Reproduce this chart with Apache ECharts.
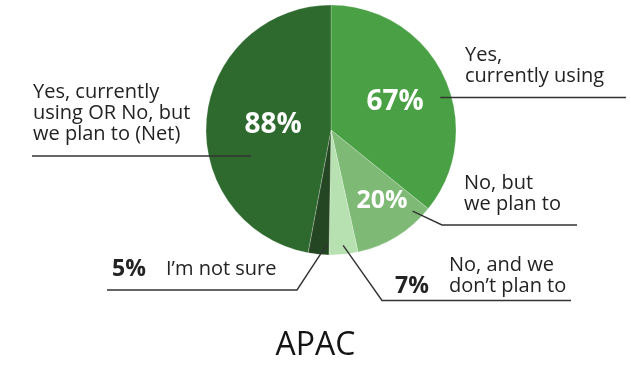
<!DOCTYPE html>
<html><head><meta charset="utf-8">
<script src="https://cdn.jsdelivr.net/npm/echarts@6/dist/echarts.min.js"></script>
<style>html,body{margin:0;padding:0;background:#fff}#c{width:631px;height:365px}</style>
</head><body><div id="c"></div>
<script>
// ---- data ----
const categories = ['Yes, currently using', 'No, but we plan to', 'No, and we don’t plan to', 'I’m not sure', 'Yes, currently using OR No, but we plan to (Net)'];
const values = [67, 20, 7, 5, 88];
const labelLines = [['Yes,', 'currently using'], ['No, but', 'we plan to'], ['No, and we', 'don’t plan to'], ['I’m not sure'], ['Yes, currently', 'using OR No, but', 'we plan to (Net)']];
const title = 'APAC';

// ---- styles / layout ----
const colors = ['#4aa145', '#7eba76', '#b7e1b0', '#244622', '#2e6a2d'];
const FONT = "'Open Sans', sans-serif";
const CENTER = [331, 130], RADIUS = 125;
const innerShow = [true, true, false, false, true];
const innerSize = [28, 25, 0, 0, 28];
const innerPos = [[395, 102], [382, 201], null, null, [273, 125]];
const outerPctInline = [false, false, true, true, false];
// start of leader (polar: degrees clockwise from 12 o'clock, radius px), elbow, end, text x, last baseline
const outerLayout = [
  {ang: 73.5, r: 114, elbow: null, end: [626, 97.5], tx: 465, base: 82},
  {ang: 134.8, r: 115, elbow: [442, 225], end: [577, 225], tx: 464, base: 210},
  {ang: 174, r: 116, elbow: [382, 300.5], end: [571, 300.5], tx: 395, base: 291.5},
  {ang: 182.2, r: 115, elbow: [297, 290], end: [107, 290], tx: 112, base: 275},
  {ang: 252, r: 84, elbow: null, end: [32, 156], tx: 33, base: 140}
];
const LH = 21;

function polar(ang, r) {
  const a = ang * Math.PI / 180;
  return [CENTER[0] + r * Math.sin(a), CENTER[1] - r * Math.cos(a)];
}

function outerText(i) {
  const lines = labelLines[i];
  const pct = values[i] + '%';
  if (outerPctInline[i]) {
    if (lines.length === 2) return '{e|}{t|' + lines[0] + '}\n{p|' + pct + '}{t|' + lines[1] + '}';
    return '{p|' + pct + '}{t|' + lines[0] + '}';
  }
  return lines.map(l => '{t|' + l + '}').join('\n');
}

const chart = echarts.init(document.getElementById('c'), null, {renderer: 'canvas'});

const baseData = categories.map((c, i) => ({name: c, value: values[i], itemStyle: {color: colors[i]}}));

const option = {
  animation: false,
  backgroundColor: '#ffffff',
  title: {
    text: title, left: 'center', top: 325,
    textStyle: {fontFamily: FONT, fontSize: 32, fontWeight: 500, color: '#141414'}
  },
  series: [
    {
      type: 'pie', z: 2, center: CENTER, radius: RADIUS, startAngle: 90, clockwise: true,
      silent: true,
      itemStyle: {borderColor: 'rgba(255,255,255,0.45)', borderWidth: 0.5},
      data: baseData.map((d, i) => Object.assign({}, d, {
        label: {
          show: innerShow[i], position: 'inside',
          formatter: values[i] + '%',
          color: '#ffffff', fontFamily: FONT, fontWeight: 'bold', fontSize: innerSize[i] || 12
        }
      })),
      labelLine: {show: false},
      labelLayout: function (p) {
        const pos = innerPos[p.dataIndex];
        if (!pos) return {};
        return {x: pos[0], y: pos[1], align: 'center', verticalAlign: 'middle'};
      }
    },
    {
      type: 'pie', z: 5, center: CENTER, radius: RADIUS, startAngle: 90, clockwise: true,
      silent: true,
      itemStyle: {color: 'rgba(0,0,0,0)', borderWidth: 0},
      data: categories.map((c, i) => ({name: c, value: values[i]})),
      label: {
        show: true, position: 'outside',
        formatter: p => outerText(p.dataIndex),
        rich: {
          t: {fontFamily: FONT, fontSize: 20, color: '#232323', lineHeight: LH},
          p: {fontFamily: FONT, fontSize: 23, fontWeight: 'bold', color: '#232323', lineHeight: LH, width: 54},
          e: {width: 54, lineHeight: LH}
        }
      },
      labelLine: {show: true, length: 10, length2: 10, lineStyle: {color: '#333333', width: 1.4}},
      labelLayout: function (p) {
        const L = outerLayout[p.dataIndex];
        const start = polar(L.ang, L.r);
        const pts = L.elbow ? [start, L.elbow, L.end] : [start, [(start[0] + L.end[0]) / 2, L.end[1]], L.end];
        if (!L.elbow) pts[0] = [start[0], L.end[1]];
        return {
          x: L.tx, y: L.base + 5, align: 'left', verticalAlign: 'bottom',
          labelLinePoints: pts
        };
      }
    }
  ]
};
chart.setOption(option);
</script></body></html>
